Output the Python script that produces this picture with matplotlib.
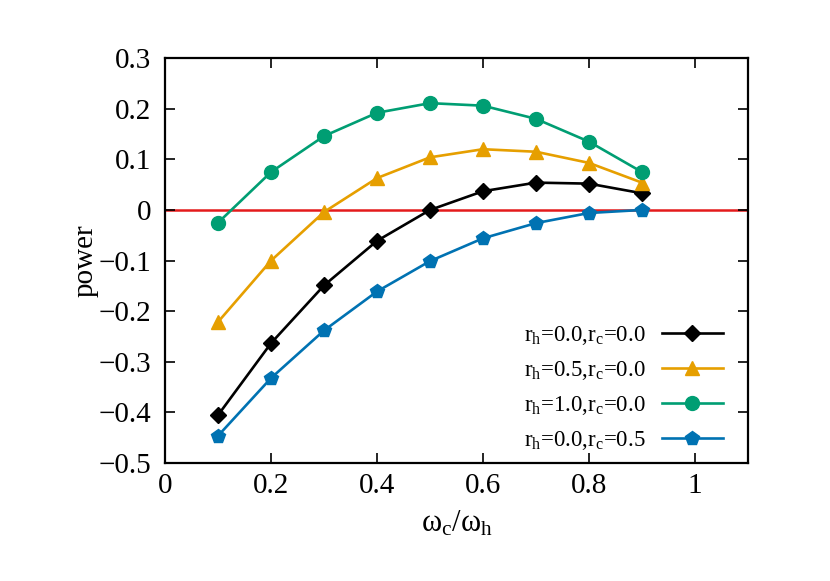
import matplotlib
matplotlib.use('Agg')
import matplotlib.pyplot as plt

plt.rcParams['font.family'] = ['Liberation Serif', 'DejaVu Serif']
plt.rcParams['mathtext.fontset'] = 'custom'
plt.rcParams['mathtext.rm'] = 'Liberation Serif'
plt.rcParams['mathtext.it'] = 'Liberation Serif'

# ratio omega_c / omega_h
ratio = [0.1, 0.2, 0.3, 0.4, 0.5, 0.6, 0.7, 0.8, 0.9]

# power for each reservoir setting
p_h00_c00 = [-0.405, -0.263, -0.149, -0.061, 0.000, 0.037, 0.054, 0.052, 0.033]
p_h05_c00 = [-0.221, -0.100, -0.004, 0.063, 0.104, 0.120, 0.115, 0.093, 0.054]
p_h10_c00 = [-0.025, 0.075, 0.146, 0.192, 0.211, 0.206, 0.180, 0.135, 0.075]
p_h00_c05 = [-0.446, -0.332, -0.238, -0.161, -0.101, -0.056, -0.026, -0.006, 0.000]

labels = [r'$\mathregular{r_h}$=0.0,$\mathregular{r_c}$=0.0',
          r'$\mathregular{r_h}$=0.5,$\mathregular{r_c}$=0.0',
          r'$\mathregular{r_h}$=1.0,$\mathregular{r_c}$=0.0',
          r'$\mathregular{r_h}$=0.0,$\mathregular{r_c}$=0.5']

fig = plt.figure(figsize=(8.3, 5.81), dpi=100)
ax = fig.add_axes([0.199, 0.203, 0.702, 0.697])

ax.axhline(0, color='#e41a1c', lw=1.8, zorder=1)
ax.plot(ratio, p_h00_c00, '-D', color='black', lw=1.9, ms=8, label=labels[0])
ax.plot(ratio, p_h05_c00, '-^', color='#e69f00', lw=1.9, ms=10, label=labels[1])
ax.plot(ratio, p_h10_c00, '-o', color='#009e73', lw=1.9, ms=10, label=labels[2])
ax.plot(ratio, p_h00_c05, '-p', color='#0072b2', lw=1.9, ms=10.5, label=labels[3])

ax.set_xlim(0, 1.1)
ax.set_ylim(-0.5, 0.3)
ax.set_xticks([0, 0.2, 0.4, 0.6, 0.8, 1])
ax.set_xticklabels(['0', '0.2', '0.4', '0.6', '0.8', '1'])
yt = [-0.5, -0.4, -0.3, -0.2, -0.1, 0, 0.1, 0.2, 0.3]
ax.set_yticks(yt)
ax.set_yticklabels([('%g' % v).replace('-', '\u2212') for v in yt])
ax.tick_params(direction='in', top=True, right=True, length=7, width=1.2,
               labelsize=21, pad=7)
ax.tick_params(axis='y', pad=10)
for s in ax.spines.values():
    s.set_linewidth(1.6)

ax.set_xlabel(r'$\mathregular{ω_c/ω_h}$', fontsize=22, labelpad=7)
ax.set_ylabel('power', fontsize=21, labelpad=0)

ax.legend(loc='lower right', bbox_to_anchor=(0.957, 0.027), frameon=False,
          markerfirst=False, fontsize=16.5, handlelength=2.66, handletextpad=0.7,
          labelspacing=0.52, borderaxespad=0, borderpad=0)

fig.savefig('out.png', dpi=100)
